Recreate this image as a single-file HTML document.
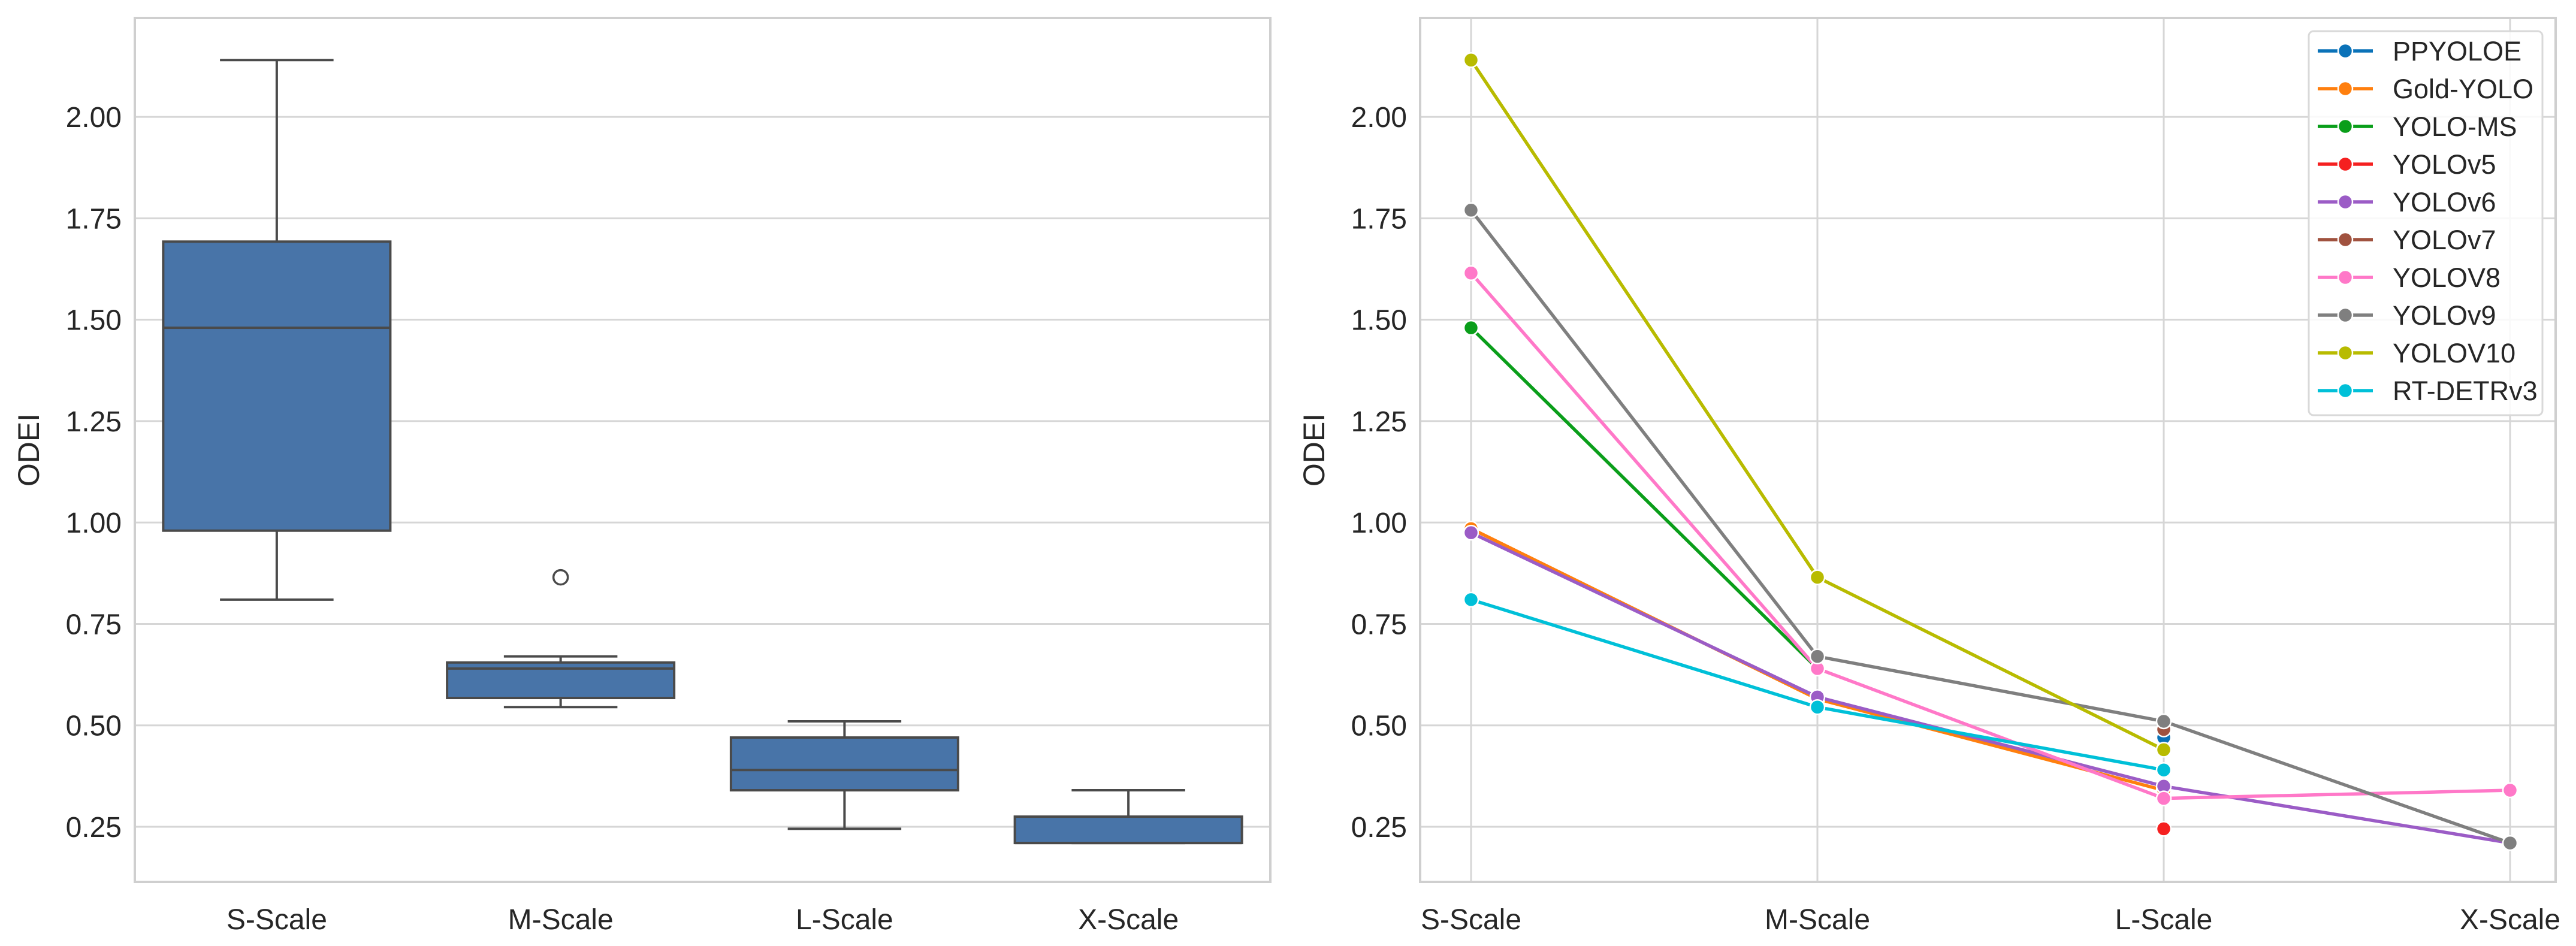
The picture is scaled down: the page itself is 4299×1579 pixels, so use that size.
<!DOCTYPE html>
<html><head><meta charset="utf-8"><style>
html,body{margin:0;padding:0;background:#fff;}
svg{display:block;font-family:"Liberation Sans",sans-serif;}
</style></head><body>
<svg id="chart" width="4299" height="1579" viewBox="0 0 4299 1579"></svg>
<script>
const categories = ["S-Scale","M-Scale","L-Scale","X-Scale"];
const seriesNames = ["PPYOLOE","Gold-YOLO","YOLO-MS","YOLOv5","YOLOv6","YOLOv7","YOLOV8","YOLOv9","YOLOV10","RT-DETRv3"];
const seriesColors = ["#0a72b8","#ff7f0e","#0a9e1a","#f52020","#9b5cc6","#a0523f","#ff78c8","#7f7f7f","#b8bb00","#00c0d8"];
const vPPYOLOE = [null,null,0.47,null];
const vGold = [0.985,0.565,0.34,null];
const vMS = [1.48,0.64,null,null];
const vV5 = [null,null,0.245,null];
const vV6 = [0.975,0.57,0.35,0.21];
const vV7 = [null,null,0.49,null];
const vV8 = [1.615,0.64,0.32,0.34];
const vV9 = [1.77,0.67,0.51,0.21];
const vV10 = [2.14,0.865,0.44,null];
const vRT = [0.81,0.545,0.39,null];
const seriesValues = [vPPYOLOE,vGold,vMS,vV5,vV6,vV7,vV8,vV9,vV10,vRT];
const yTicks = [0.25,0.50,0.75,1.00,1.25,1.50,1.75,2.00];
const yTickLabels = ["0.25","0.50","0.75","1.00","1.25","1.50","1.75","2.00"];

const NS="http://www.w3.org/2000/svg";
const svg=document.getElementById('chart');
function mk(tag,attrs,parent){const e=document.createElementNS(NS,tag);for(const k in attrs)e.setAttribute(k,attrs[k]);(parent||svg).appendChild(e);return e;}
const top_=30, bot=1472;
function yScale(v){return 1380-(v-0.25)*677.1;}

function axes(left,right,xpos,name,grid){
  const g=mk('g',{});
  
  
  yTicks.forEach((t,i)=>{
    const y=yScale(t);
    const l=mk('line',{x1:left,x2:right,y1:y,y2:y,stroke:'#d6d6d6','stroke-width':3},g);
    
    
    const tx=mk('text',{x:left-22,y:y+17,'text-anchor':'end','font-size':48,fill:'#262626'},g);
    tx.textContent=yTickLabels[i];
    
    
  });
  categories.forEach((c,i)=>{
    const x=xpos(i);
    if(grid){const l=mk('line',{x1:x,x2:x,y1:top_,y2:bot,stroke:'#d6d6d6','stroke-width':3},g);
      
      }
    const tx=mk('text',{x:x,y:1551,'text-anchor':'middle','font-size':48,fill:'#262626'},g);
    tx.textContent=c;
    
    
  });
  const yl=mk('text',{x:0,y:0,transform:`translate(${left-160},${(top_+bot)/2}) rotate(-90)`,'text-anchor':'middle','font-size':50,fill:'#262626'},g);
  yl.textContent='ODEI';
  
  
  return g;
}
function frame(left,right){
  const r=mk('rect',{x:left,y:top_,width:right-left,height:bot-top_,fill:'none',stroke:'#cfcfcf','stroke-width':4});
  
  
}

// Left: boxplot
const L1=225,R1=2120;
const bx=i=>L1+(R1-L1)*(i+0.5)/4;
axes(L1,R1,bx,'boxplot-axes',false);
function quant(a,q){const s=a.slice().sort((x,y)=>x-y);const p=(s.length-1)*q;const lo=Math.floor(p),hi=Math.ceil(p);return s[lo]+(s[hi]-s[lo])*(p-lo);}
const bw=(R1-L1)/4*0.8;
categories.forEach((c,i)=>{
  const vals=seriesValues.map(s=>s[i]).filter(v=>v!=null);
  const q1=quant(vals,0.25),med=quant(vals,0.5),q3=quant(vals,0.75),iqr=q3-q1;
  const inl=vals.filter(v=>v>=q1-1.5*iqr&&v<=q3+1.5*iqr);
  const wlo=Math.min(...inl),whi=Math.max(...inl);
  const g=mk('g',{});
  
  
  const x=bx(i),st='#4a4a4a';
  mk('line',{x1:x,x2:x,y1:yScale(whi),y2:yScale(q3),stroke:st,'stroke-width':4},g);
  mk('line',{x1:x,x2:x,y1:yScale(q1),y2:yScale(wlo),stroke:st,'stroke-width':4},g);
  mk('line',{x1:x-bw/4,x2:x+bw/4,y1:yScale(whi),y2:yScale(whi),stroke:st,'stroke-width':4},g);
  mk('line',{x1:x-bw/4,x2:x+bw/4,y1:yScale(wlo),y2:yScale(wlo),stroke:st,'stroke-width':4},g);
  mk('rect',{x:x-bw/2,y:yScale(q3),width:bw,height:yScale(q1)-yScale(q3),fill:'#4874a8',stroke:st,'stroke-width':4},g);
  mk('line',{x1:x-bw/2,x2:x+bw/2,y1:yScale(med),y2:yScale(med),stroke:st,'stroke-width':4},g);
  vals.filter(v=>!inl.includes(v)).forEach(v=>{
    const o=mk('circle',{cx:x,cy:yScale(v),r:12,fill:'none',stroke:st,'stroke-width':3.5},g);
    
    
  });
});
frame(L1,R1);

// Right: lines
const L2=2370,R2=4265;
const lx=i=>L2+85+i*578;
axes(L2,R2,lx,'line-axes',true);
seriesValues.forEach((s,k)=>{
  const g=mk('g',{});
  
  
  let seg=[];
  const segs=[];
  s.forEach((v,i)=>{if(v==null){if(seg.length)segs.push(seg);seg=[];}else seg.push([lx(i),yScale(v)]);});
  if(seg.length)segs.push(seg);
  segs.forEach(sg=>{if(sg.length>1)mk('polyline',{points:sg.map(p=>p.join(',')).join(' '),fill:'none',stroke:seriesColors[k],'stroke-width':5.5,'stroke-linejoin':'round'},g);});
  s.forEach((v,i)=>{if(v==null)return;
    const c=mk('circle',{cx:lx(i),cy:yScale(v),r:12,fill:seriesColors[k],stroke:'#fff','stroke-width':2.5},g);
    
    
  });
});
frame(L2,R2);

// Legend
const lg=mk('g',{});


mk('rect',{x:3853,y:52,width:390,height:641,rx:8,fill:'#fff','fill-opacity':0.85,stroke:'#d9d9d9','stroke-width':3},lg);
seriesNames.forEach((n,k)=>{
  const y=85+k*63;
  const e=mk('g',{},lg);
  
  
  mk('line',{x1:3868,x2:3960,y1:y,y2:y,stroke:seriesColors[k],'stroke-width':5.5},e);
  mk('circle',{cx:3914,cy:y,r:12,fill:seriesColors[k],stroke:'#fff','stroke-width':2.5},e);
  const t=mk('text',{x:3993,y:y+16,'font-size':45,fill:'#262626'},e);
  t.textContent=n;
});
</script>
</body></html>
